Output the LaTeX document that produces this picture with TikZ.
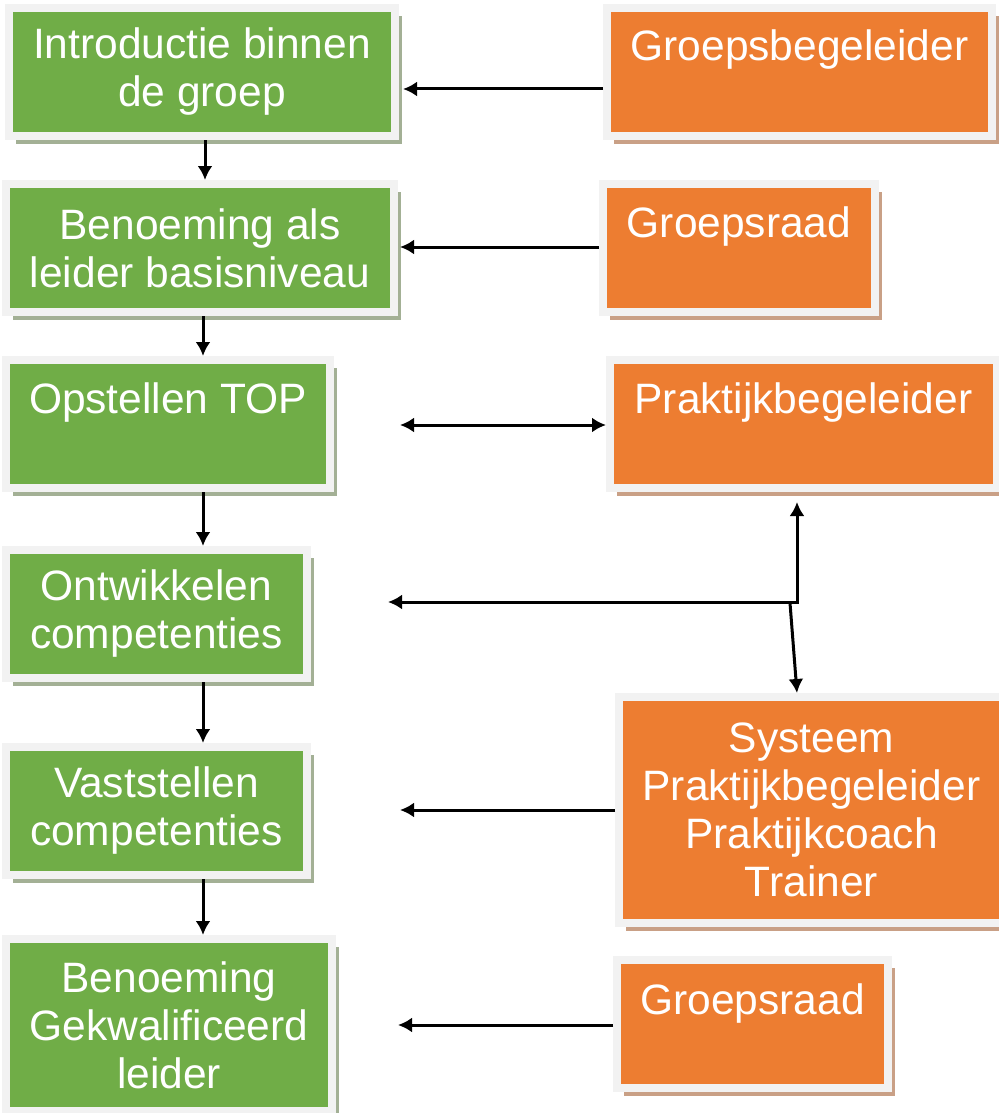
\documentclass[tikz,border=0pt]{standalone}
\usepackage{fontspec}
\setmainfont{Liberation Sans}
\usetikzlibrary{arrows.meta,shadows}

\definecolor{boxgreen}{HTML}{70AD47}
\definecolor{boxorange}{HTML}{ED7D31}
\definecolor{framegray}{HTML}{F2F2F2}
\definecolor{shadegreen}{HTML}{A3B095}
\definecolor{shadeorange}{HTML}{C9A086}

\tikzset{
  box/.style={draw=framegray,line width=8pt,inner sep=4pt,text=white,align=center,
    font=\fontsize{42.5}{48}\selectfont},
  greenbox/.style={box,fill=boxgreen,
    drop shadow={fill=shadegreen,opacity=1,shadow xshift=7pt,shadow yshift=-8pt}},
  orangebox/.style={box,fill=boxorange,
    drop shadow={fill=shadeorange,opacity=1,shadow xshift=7pt,shadow yshift=-8pt}},
  toptext/.style={text height=49pt,text depth=71pt},
  conn/.style={draw=black,line width=3pt,-{Latex[length=14pt,width=15pt]}},
  conn2/.style={draw=black,line width=3pt,{Latex[length=14pt,width=15pt]}-{Latex[length=14pt,width=15pt]}}
}

\begin{document}
\begin{tikzpicture}[x=1pt,y=-1pt]

\useasboundingbox (0,0) rectangle (998,1113);

% steps
\node[greenbox,minimum width=386pt,minimum height=128pt] (intro) at (202,72) {Introductie binnen\\de groep};
\node[greenbox,minimum width=388pt,minimum height=128pt] (benoem) at (200,248) {Benoeming als\\leider basisniveau};
\node[greenbox,toptext,minimum width=324pt] (top) at (168,424) {Opstellen TOP};
\node[greenbox,minimum width=301pt,minimum height=128pt] (ontw) at (156.5,614) {Ontwikkelen\\competenties};
\node[greenbox,minimum width=301pt,minimum height=128pt] (vast) at (156.5,811) {Vaststellen\\competenties};
\node[greenbox,minimum width=326pt,minimum height=172pt] (gekw) at (169,1025) {Benoeming\\Gekwalificeerd\\leider};

% actors
\node[orangebox,toptext,minimum width=385pt] (gbeg) at (799.5,72) {Groepsbegeleider};
\node[orangebox,toptext,minimum width=272pt] (graad) at (739,248) {Groepsraad};
\node[orangebox,toptext,minimum width=387pt] (prak) at (803.5,424) {Praktijkbegeleider};
\node[orangebox,minimum width=385pt,minimum height=226pt] (sys) at (811.5,810) {Systeem\\Praktijkbegeleider\\Praktijkcoach\\Trainer};
\node[orangebox,text height=50pt,text depth=70pt,minimum width=271pt] (graad2) at (752.5,1024) {Groepsraad};

\coordinate (in1) at (403,89);
\coordinate (in2) at (400,247);
\coordinate (in3) at (400,425);
\coordinate (in4) at (388,602);
\coordinate (in5) at (400,810);
\coordinate (in6) at (398,1025);
\coordinate (jn) at (797,602);
\coordinate (jn2) at (790,603);
\coordinate (jtop) at (797,502);

\path[conn] ([xshift=3pt]intro.south) -- ([xshift=5pt]benoem.north);
\path[conn] ([xshift=3pt]benoem.south) -- ([xshift=35pt]top.north);
\path[conn] ([xshift=35pt]top.south) -- ([xshift=46.5pt]ontw.north);
\path[conn] ([xshift=46.5pt]ontw.south) -- ([xshift=46.5pt]vast.north);
\path[conn] ([xshift=46.5pt]vast.south) -- ([xshift=34pt]gekw.north);

\path[conn] (gbeg.west |- in1) -- (in1);
\path[conn] (graad.west |- in2) -- (in2);
\path[conn2] (in3) -- (prak.west |- in3);
\path[conn2] (in4) -- (jn) -- (jtop);
\path[conn] (jn2) -- (sys.north -| jn);
\path[conn] (sys.west |- in5) -- (in5);
\path[conn] (graad2.west |- in6) -- (in6);

\end{tikzpicture}
\end{document}
